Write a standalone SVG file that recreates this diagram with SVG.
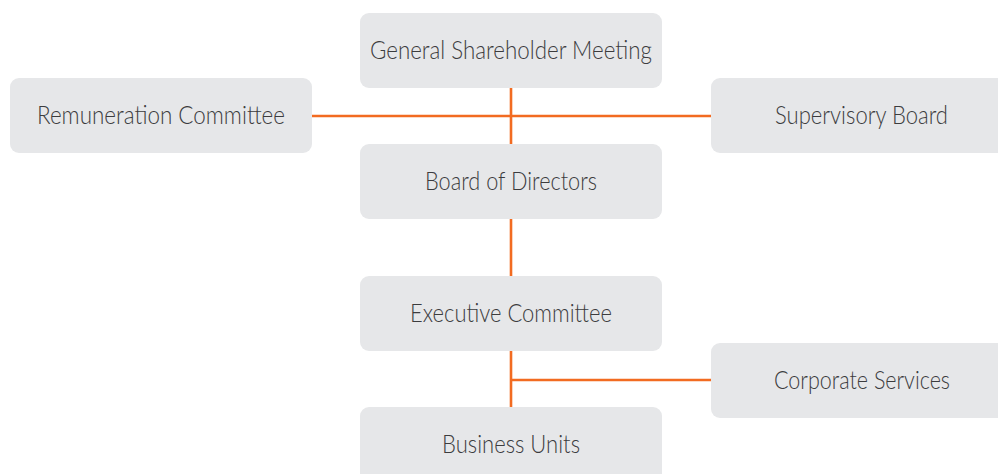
<svg xmlns="http://www.w3.org/2000/svg" width="998" height="474" viewBox="0 0 998 474">
<style>
.box{fill:#e6e7e9}
.t{font-family:Lato,"Liberation Sans",Arial,sans-serif;font-weight:300;font-size:25px;fill:#3c3c3e;text-anchor:middle}
.c{stroke:#f26b21;stroke-width:2.6;fill:none}
</style>
<rect width="998" height="474" fill="#ffffff"/>
<g id="connectors">
<line class="c" x1="511" y1="88" x2="511" y2="145"/>
<line class="c" x1="312" y1="116" x2="711" y2="116"/>
<line class="c" x1="511" y1="219" x2="511" y2="277"/>
<line class="c" x1="511" y1="351" x2="511" y2="408"/>
<line class="c" x1="511" y1="380" x2="711" y2="380"/>
</g>
<g id="gsm"><rect class="box" x="360" y="13" width="302" height="75" rx="9"/><text class="t" x="511" y="59" textLength="282" lengthAdjust="spacingAndGlyphs">General Shareholder Meeting</text></g>
<g id="remuneration"><rect class="box" x="10" y="78" width="302" height="75" rx="9"/><text class="t" x="161" y="124" textLength="248" lengthAdjust="spacingAndGlyphs">Remuneration Committee</text></g>
<g id="supervisory"><rect class="box" x="711" y="78" width="302" height="75" rx="9"/><text class="t" x="861.5" y="124" textLength="173" lengthAdjust="spacingAndGlyphs">Supervisory Board</text></g>
<g id="board"><rect class="box" x="360" y="144" width="302" height="75" rx="9"/><text class="t" x="511" y="190" textLength="172" lengthAdjust="spacingAndGlyphs">Board of Directors</text></g>
<g id="executive"><rect class="box" x="360" y="276" width="302" height="75" rx="9"/><text class="t" x="511" y="322" textLength="202" lengthAdjust="spacingAndGlyphs">Executive Committee</text></g>
<g id="corporate"><rect class="box" x="711" y="343" width="302" height="75" rx="9"/><text class="t" x="862" y="389" textLength="176" lengthAdjust="spacingAndGlyphs">Corporate Services</text></g>
<g id="business"><rect class="box" x="360" y="407" width="302" height="80" rx="9"/><text class="t" x="511" y="453" textLength="138" lengthAdjust="spacingAndGlyphs">Business Units</text></g>
</svg>
